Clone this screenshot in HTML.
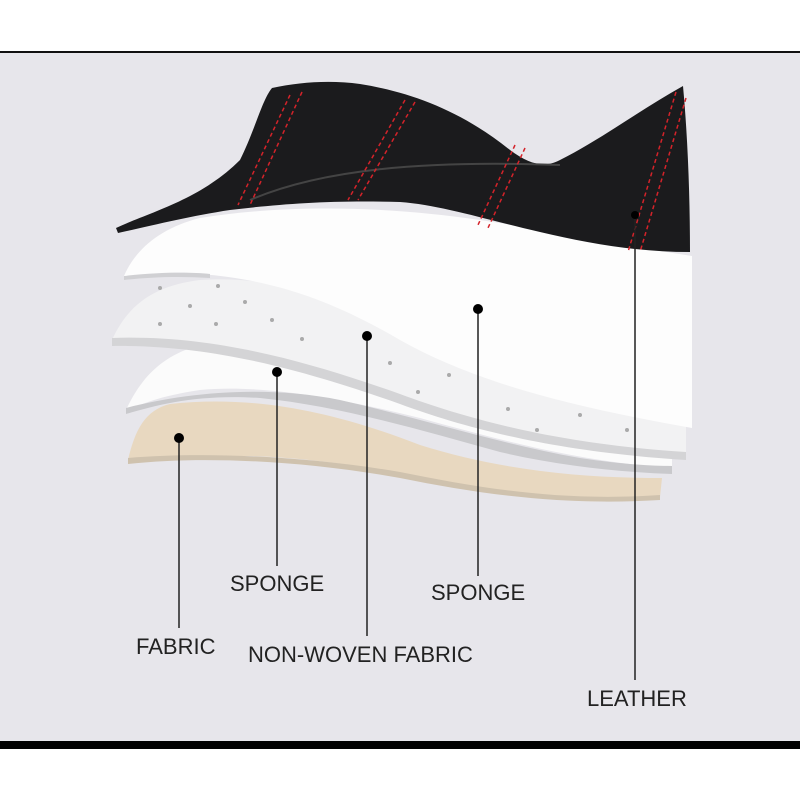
<!DOCTYPE html>
<html><head><style>
html,body{margin:0;padding:0;background:#fff;}
svg{display:block}
text{font-family:"Liberation Sans",sans-serif;font-size:22px;fill:#222;}
</style></head><body>
<svg width="800" height="800" viewBox="0 0 800 800" xmlns="http://www.w3.org/2000/svg">
<rect x="0" y="0" width="800" height="800" fill="#fff"/>
<rect x="0" y="52" width="800" height="689" fill="#e7e6eb"/>
<rect x="0" y="51" width="800" height="2" fill="#111"/>
<rect x="0" y="741" width="800" height="8" fill="#000"/>

<!-- fabric -->
<path d="M128,460 C135,430 145,410 170,404 C250,395 330,410 420,445 C500,470 580,478 662,478 L660,497 C620,504 560,503 500,492 C420,476 330,458 250,456 C200,456 160,458 128,462 Z" fill="#e8d8c0"/>
<path d="M128,458 C200,452 300,455 400,472 C480,488 560,502 660,495 L660,500 C560,506 480,494 400,478 C300,460 200,456 128,464 Z" fill="#cfc2ae"/>

<!-- sponge 2 -->
<path d="M126,410 C140,380 160,356 200,345 C260,335 330,350 400,380 C480,420 570,445 672,455 L672,468 C580,462 500,440 420,418 C340,398 260,384 200,390 C160,396 140,404 126,412 Z" fill="#fbfbfb"/>
<path d="M126,408 C180,394 260,384 340,400 C420,418 500,444 580,458 C620,464 650,466 672,466 L672,474 C620,472 560,466 500,452 C420,430 340,406 260,398 C200,394 160,404 126,414 Z" fill="#c9c9cc"/>

<!-- non-woven -->
<path d="M112,340 C130,300 160,285 200,280 C280,275 340,300 400,335 C480,380 580,405 686,425 L686,455 C560,448 470,425 400,400 C320,370 220,338 112,340 Z" fill="#f2f2f3"/>
<path d="M112,338 C220,334 320,366 400,394 C470,420 560,444 686,452 L686,460 C560,452 470,430 400,404 C320,376 220,344 112,346 Z" fill="#d4d4d6"/>
<g fill="#aaa">
<circle cx="160" cy="288" r="2"/><circle cx="218" cy="286" r="2"/><circle cx="190" cy="306" r="2"/><circle cx="245" cy="302" r="2"/><circle cx="160" cy="324" r="2"/><circle cx="216" cy="324" r="2"/><circle cx="272" cy="320" r="2"/><circle cx="302" cy="339" r="2"/><circle cx="390" cy="363" r="2"/><circle cx="449" cy="375" r="2"/><circle cx="418" cy="392" r="2"/><circle cx="508" cy="409" r="2"/><circle cx="537" cy="430" r="2"/><circle cx="627" cy="430" r="2"/><circle cx="580" cy="415" r="2"/>
</g>

<!-- sponge 1 (top) -->
<path d="M124,276 C135,250 160,228 200,218 C280,205 380,205 480,220 C560,232 620,245 692,256 L692,428 C580,408 480,385 400,340 C340,305 280,280 200,274 C170,272 145,274 124,278 Z" fill="#fdfdfd"/>
<path d="M124,276 C160,272 190,272 210,274 L210,278 C180,276 150,277 124,280 Z" fill="#d0d0d3"/>

<!-- leather -->
<path d="M116,228 C150,212 200,200 240,160 C255,130 262,100 272,88 C300,82 330,80 360,84 C410,92 460,110 510,150 C530,165 545,168 560,160 C600,140 640,110 683,86 C688,140 690,200 690,252 C640,252 590,244 540,232 C480,218 440,205 400,202 C330,200 280,204 230,210 C190,216 150,226 118,233 Z" fill="#1b1b1d"/>
<path d="M250,200 C320,170 420,160 560,165" stroke="#444" stroke-width="2" fill="none"/>
<g stroke="#d4232a" stroke-width="1.5" stroke-dasharray="4,3" fill="none">
<path d="M290,95 L238,205"/><path d="M302,92 L250,205"/>
<path d="M405,100 L348,200"/><path d="M415,102 L358,200"/>
<path d="M515,145 L478,225"/><path d="M525,148 L488,228"/>
<path d="M676,92 L628,252"/><path d="M686,98 L640,252"/>
</g>

<!-- connectors -->
<g stroke="#222" stroke-width="1.5">
<line x1="179" y1="438" x2="179" y2="628"/>
<line x1="277" y1="372" x2="277" y2="566"/>
<line x1="367" y1="336" x2="367" y2="636"/>
<line x1="478" y1="309" x2="478" y2="576"/>
<line x1="635" y1="215" x2="635" y2="680"/>
</g>
<g fill="#000">
<circle cx="179" cy="438" r="5"/><circle cx="277" cy="372" r="5"/><circle cx="367" cy="336" r="5"/><circle cx="478" cy="309" r="5"/><circle cx="635" cy="215" r="4"/>
</g>

<text x="136" y="654">FABRIC</text>
<text x="230" y="591">SPONGE</text>
<text x="248" y="662">NON-WOVEN FABRIC</text>
<text x="431" y="600">SPONGE</text>
<text x="587" y="706">LEATHER</text>
</svg>
</body></html>
